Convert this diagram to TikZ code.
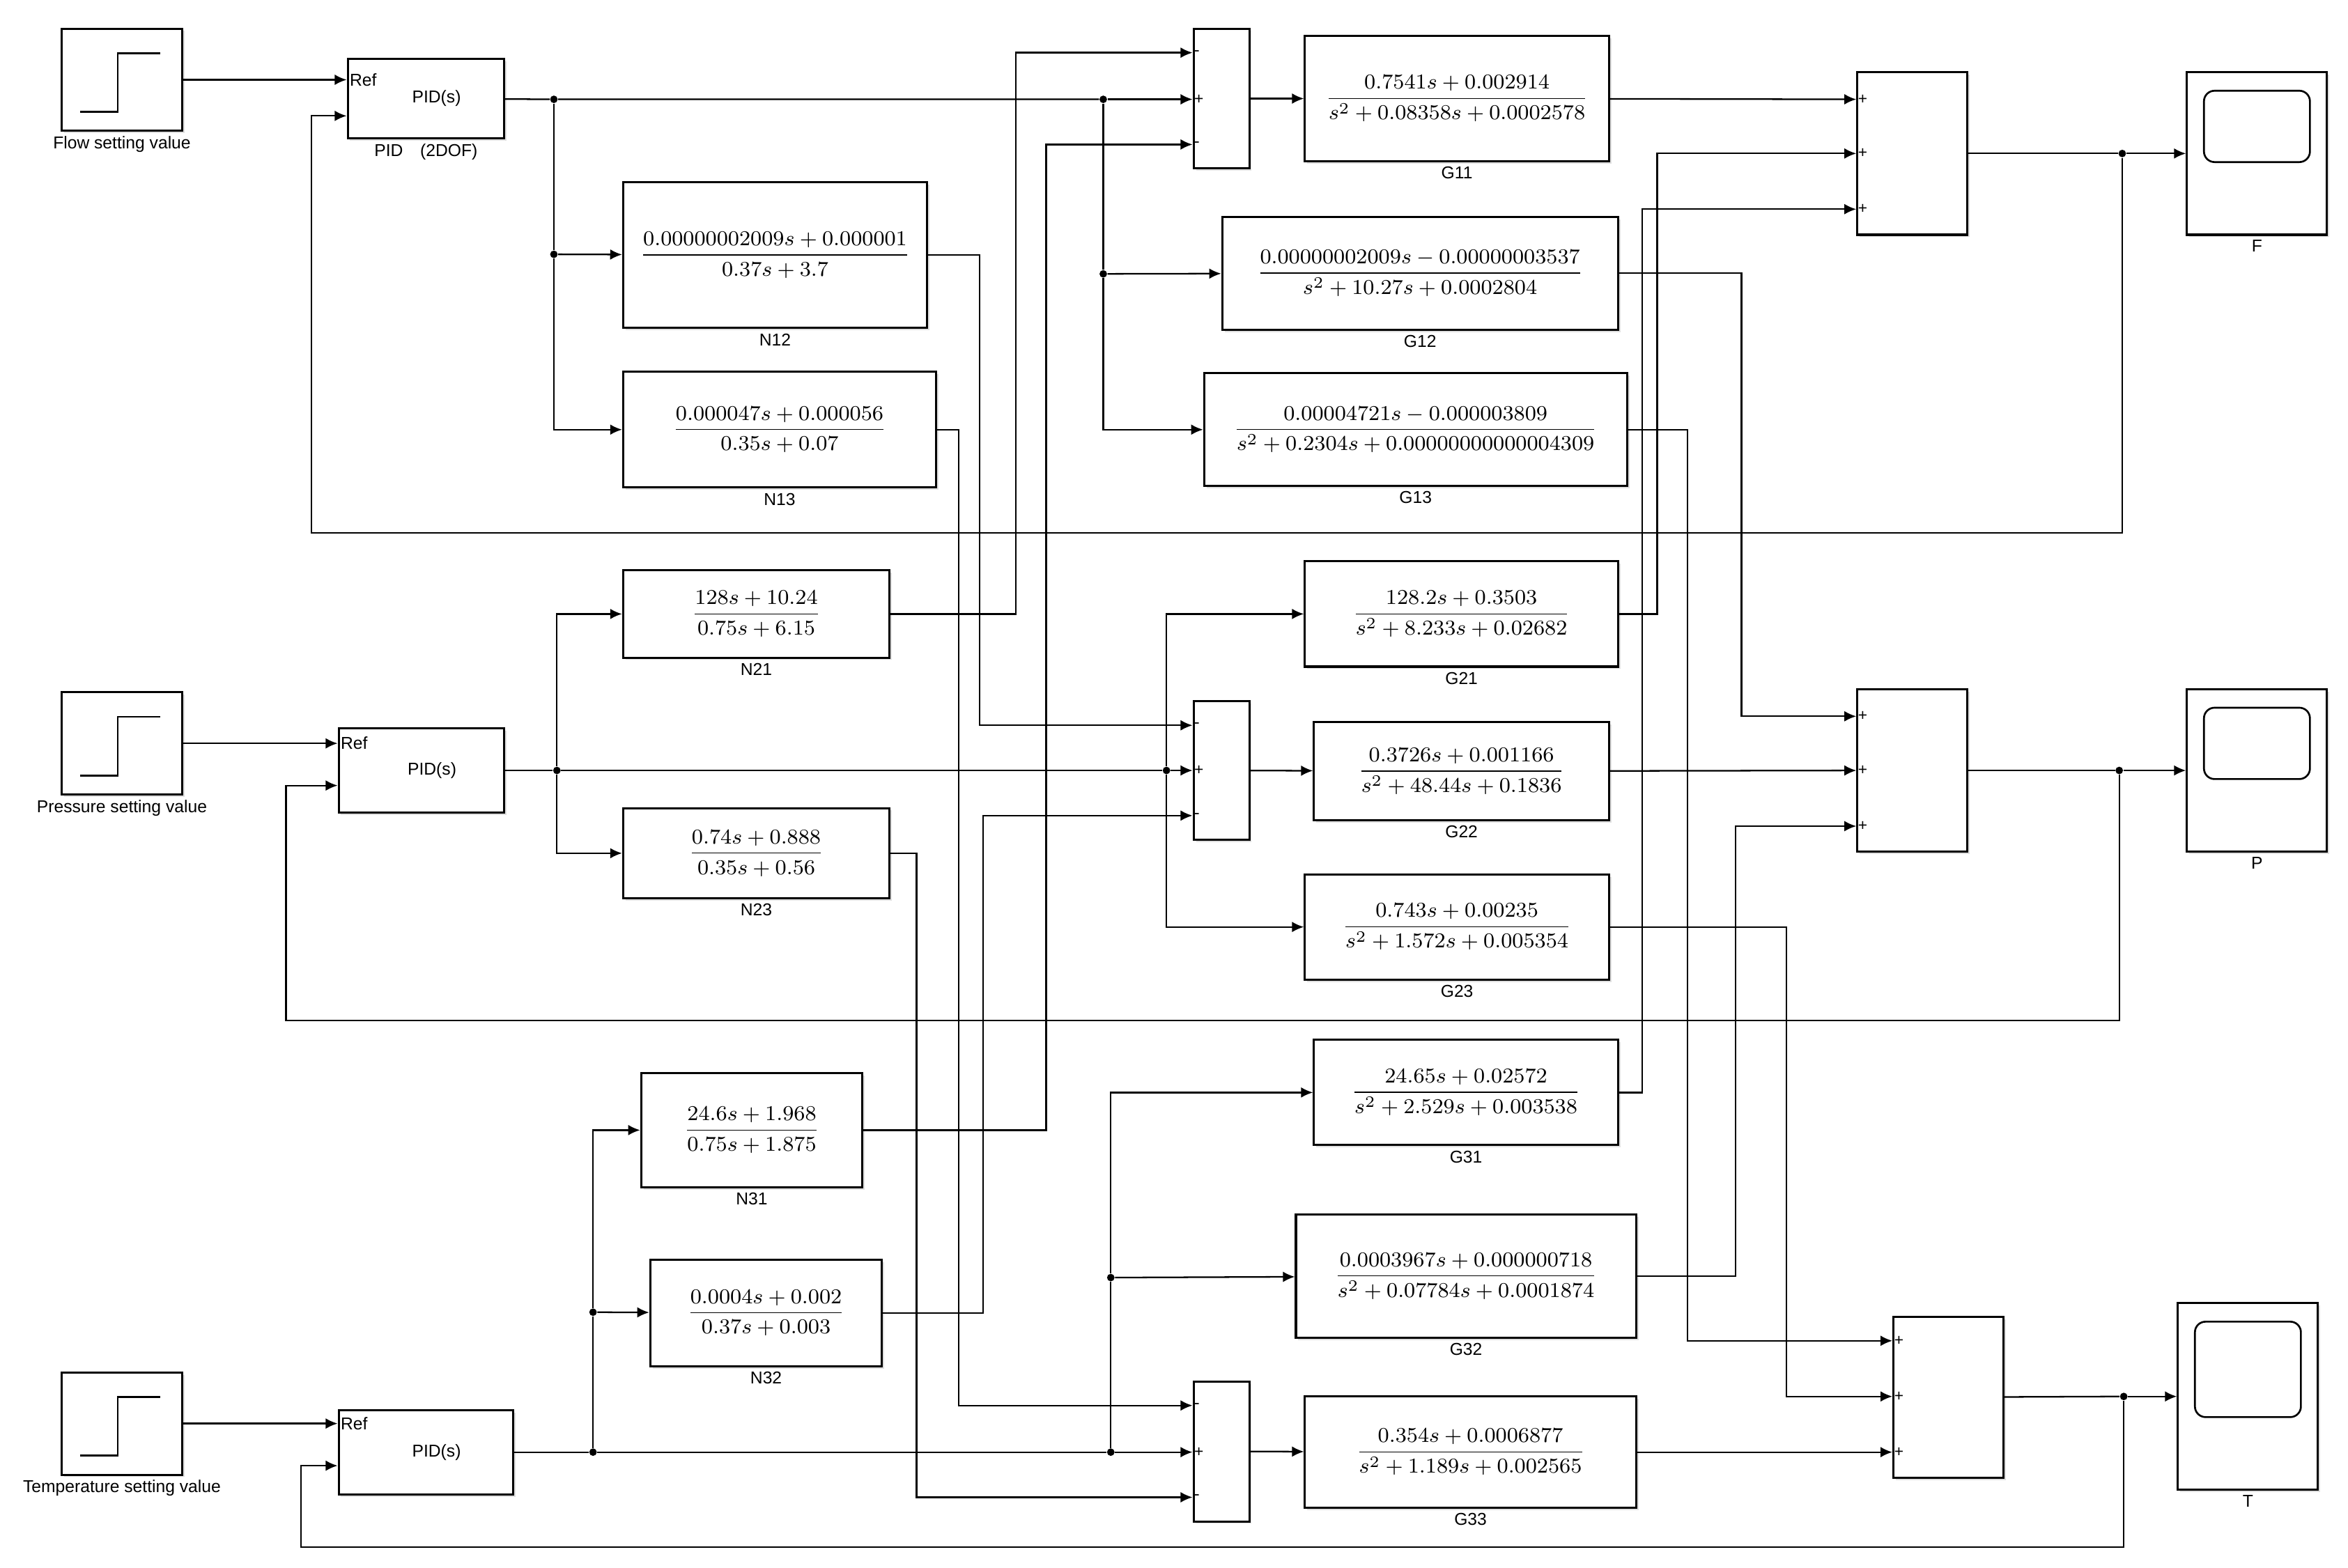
\documentclass[tikz,border=0pt]{standalone}
\usepackage{fontspec}
\setmainfont{Liberation Sans}
\usepackage{amsmath}
\usetikzlibrary{arrows.meta,shadows}

\tikzset{
  blk/.style={draw,line width=0.8pt,fill=white,inner sep=0pt,
    font=\fontsize{8}{9}\selectfont,
    drop shadow={shadow xshift=0.9pt,shadow yshift=-0.9pt,opacity=0.25}},
  lbl/.style={font=\fontsize{6.5}{7}\selectfont,inner sep=1.5pt},
  sgn/.style={font=\fontsize{6}{6}\selectfont,inner sep=0.5pt,anchor=west},
  sig/.style={line width=0.6pt,-{Latex[length=4.5pt,width=4pt]}},
  wire/.style={line width=0.6pt},
  dot/.style={circle,fill,inner sep=0pt,minimum size=1mm}
}
% block from corner values: name, left, top, right, bottom, label, text
\newcommand{\blk}[7]{%
  \node[blk,minimum width={(#4-#2)*0.02cm},minimum height={(#5-#3)*0.02cm},
    label={[lbl]below:#6}] (#1) at ({(#2+#4)/2},{(#3+#5)/2}) {#7};}
\newcommand{\tf}[2]{$\displaystyle\frac{#1}{#2}$}

\begin{document}
\begin{tikzpicture}[x=0.02cm,y=-0.02cm]
\useasboundingbox (0,0) rectangle (1560,1042);

% setting values
\blk{St1}{41}{19}{121}{87}{Flow setting value}{}
\blk{St2}{41}{460}{121}{528}{Pressure setting value}{}
\blk{St3}{41}{912}{121}{980}{Temperature setting value}{}
\foreach \n in {St1,St2,St3}
{
  \draw[line width=0.7pt] ([shift={(13,56)}]\n.north west) -- ++(25,0)
    -- ++(0,-39) -- ++(28,0);
}

% controllers
\blk{PID1}{231}{39}{335}{92}{PID\quad(2DOF)}{}
\blk{PID2}{225}{484}{335}{540}{}{}
\blk{PID3}{225}{937}{341}{993}{}{}
\foreach \n/\ya/\yb in {PID1/53/77,PID2/494/522,PID3/946/974}
{
  \coordinate (\n-r) at (\n.west |- 0,\ya);
  \coordinate (\n-f) at (\n.west |- 0,\yb);
  \node[lbl,anchor=west,inner sep=1pt] at (\n-r) {Ref};
  \node[lbl] at ([xshift=4pt]\n.center) {PID(s)};
}

% cross couplings
\blk{N12}{414}{121}{616}{218}{N12}{\tf{0.00000002009s+0.000001}{0.37s+3.7}}
\blk{N13}{414}{247}{622}{324}{N13}{\tf{0.000047s+0.000056}{0.35s+0.07}}
\blk{N21}{414}{379}{591}{437}{N21}{\tf{128s+10.24}{0.75s+6.15}}
\blk{N23}{414}{537}{591}{597}{N23}{\tf{0.74s+0.888}{0.35s+0.56}}
\blk{N31}{426}{713}{573}{789}{N31}{\tf{24.6s+1.968}{0.75s+1.875}}
\blk{N32}{432}{837}{586}{908}{N32}{\tf{0.0004s+0.002}{0.37s+0.003}}

% plant
\blk{G11}{867}{24}{1069}{107}{G11}{\tf{0.7541s+0.002914}{s^2+0.08358s+0.0002578}}
\blk{G12}{812}{144}{1075}{219}{G12}{\tf{0.00000002009s-0.00000003537}{s^2+10.27s+0.0002804}}
\blk{G13}{800}{248}{1081}{323}{G13}{\tf{0.00004721s-0.000003809}{s^2+0.2304s+0.00000000000004309}}
\blk{G21}{867}{373}{1075}{443}{G21}{\tf{128.2s+0.3503}{s^2+8.233s+0.02682}}
\blk{G22}{873}{480}{1069}{545}{G22}{\tf{0.3726s+0.001166}{s^2+48.44s+0.1836}}
\blk{G23}{867}{581}{1069}{651}{G23}{\tf{0.743s+0.00235}{s^2+1.572s+0.005354}}
\blk{G31}{873}{691}{1075}{761}{G31}{\tf{24.65s+0.02572}{s^2+2.529s+0.003538}}
\blk{G32}{861}{807}{1087}{889}{G32}{\tf{0.0003967s+0.000000718}{s^2+0.07784s+0.0001874}}
\blk{G33}{867}{928}{1087}{1002}{G33}{\tf{0.354s+0.0006877}{s^2+1.189s+0.002565}}

% sums
\blk{S1}{793}{19}{830}{112}{}{}
\blk{S2}{793}{466}{830}{558}{}{}
\blk{S3}{793}{918}{830}{1011}{}{}
\blk{SF}{1234}{48}{1307}{156}{}{}
\blk{SP}{1234}{458}{1307}{566}{}{}
\blk{ST}{1258}{875}{1331}{982}{}{}
\foreach \s/\ya/\yb/\yc/\sa/\sb in {S1/35/66/96/-/+,S2/482/512/542/-/+,S3/934/965/995/-/+,
  SF/66/102/139/+/+,SP/476/512/549/+/+,ST/891/928/965/+/+}
{
  \coordinate (\s-1) at (\s.west |- 0,\ya);
  \coordinate (\s-2) at (\s.west |- 0,\yb);
  \coordinate (\s-3) at (\s.west |- 0,\yc);
  \node[sgn] at (\s-1) {\sa};
  \node[sgn] at (\s-2) {\sb};
  \node[sgn] at (\s-3) {\sa};
}

% scopes
\blk{ScF}{1453}{48}{1546}{156}{F}{}
\blk{ScP}{1453}{458}{1546}{566}{P}{}
\blk{ScT}{1447}{866}{1540}{990}{T}{}
\foreach \n in {ScF,ScP,ScT}
{
  \draw[line width=0.7pt,rounded corners=4pt] ([shift={(12,13)}]\n.north west)
    rectangle ([shift={(-12,-49)}]\n.south east);
}

% branch points
\node[dot] (d11) at (368,66) {};
\node[dot] (d12) at (733,66) {};
\node[dot] (d13) at (368,169) {};
\node[dot] (d14) at (733,182) {};
\node[dot] (d21) at (370,512) {};
\node[dot] (d22) at (775,512) {};
\node[dot] (d31) at (394,965) {};
\node[dot] (d32) at (394,872) {};
\node[dot] (d33) at (738,965) {};
\node[dot] (d34) at (738,849) {};
\node[dot] (dF) at (1410,102) {};
\node[dot] (dP) at (1408,512) {};
\node[dot] (dT) at (1411,928) {};

% flow loop
\draw[sig] (St1) -- (PID1-r);
\draw[wire] (PID1) -- (d11) -- (d12);
\draw[sig] (d12) -- (S1-2);
\draw[wire] (d11) -- (d13);
\draw[sig] (d13) -- (N12);
\draw[sig] (d13) |- (N13);
\draw[wire] (d12) -- (d14);
\draw[sig] (d14) -- (G12);
\draw[sig] (d14) |- (G13);
\draw[sig] (S1) -- (G11);
\draw[sig] (G11) -- (SF-1);
\draw[wire] (SF) -- (dF);
\draw[sig] (dF) -- (ScF);
\draw[sig] (dF) -- (1410,354) -| (207,77) -- (PID1-f);

% pressure loop
\draw[sig] (St2) -- (PID2-r);
\draw[wire] (PID2) -- (d21) -- (d22);
\draw[sig] (d22) -- (S2-2);
\draw[sig] (d21) |- (N21);
\draw[sig] (d21) |- (N23);
\draw[sig] (d22) |- (G21);
\draw[sig] (d22) |- (G23);
\draw[sig] (S2) -- (G22);
\draw[sig] (G22) -- (SP-2);
\draw[wire] (SP) -- (dP);
\draw[sig] (dP) -- (ScP);
\draw[sig] (dP) -- (1408,678) -| (190,522) -- (PID2-f);

% temperature loop
\draw[sig] (St3) -- (PID3-r);
\draw[wire] (PID3) -- (d31) -- (d33);
\draw[sig] (d33) -- (S3-2);
\draw[wire] (d31) -- (d32);
\draw[sig] (d32) -- (N32);
\draw[sig] (d32) |- (N31);
\draw[wire] (d33) -- (d34);
\draw[sig] (d34) -- (G32);
\draw[sig] (d34) |- (G31);
\draw[sig] (S3) -- (G33);
\draw[sig] (G33) -- (ST-3);
\draw[wire] (ST) -- (dT);
\draw[sig] (dT) -- (ScT);
\draw[sig] (dT) -- (1411,1028) -| (200,974) -- (PID3-f);

% couplings into the sums
\draw[sig] (N21) -| (S1-1 -| 675,0) -- (S1-1);
\draw[sig] (N31) -| (S1-3 -| 695,0) -- (S1-3);
\draw[sig] (N12) -| (S2-1 -| 651,0) -- (S2-1);
\draw[sig] (N32) -| (S2-3 -| 653,0) -- (S2-3);
\draw[sig] (N13) -| (S3-1 -| 637,0) -- (S3-1);
\draw[sig] (N23) -| (S3-3 -| 609,0) -- (S3-3);
\draw[sig] (G21) -| (SF-2 -| 1101,0) -- (SF-2);
\draw[sig] (G31) -| (SF-3 -| 1091,0) -- (SF-3);
\draw[sig] (G12) -| (SP-1 -| 1157,0) -- (SP-1);
\draw[sig] (G32) -| (SP-3 -| 1153,0) -- (SP-3);
\draw[sig] (G13) -| (ST-1 -| 1121,0) -- (ST-1);
\draw[sig] (G23) -| (ST-2 -| 1187,0) -- (ST-2);
\end{tikzpicture}
\end{document}
